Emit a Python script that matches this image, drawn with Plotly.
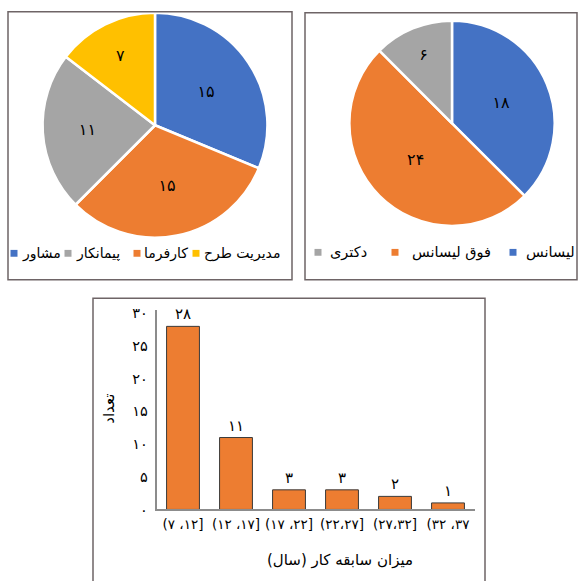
import plotly.graph_objects as go

# ---------------- data ----------------
role_labels = ["مشاور", "کارفرما", "پیمانکار", "مدیریت طرح"]
role_values = [15, 15, 11, 7]
role_colors = ["#4472C4", "#ED7D31", "#A5A5A5", "#FFC000"]

degree_labels = ["لیسانس", "فوق لیسانس", "دکتری"]
degree_values = [18, 24, 6]
degree_colors = ["#4472C4", "#ED7D31", "#A5A5A5"]

exp_categories = ["(۷ ،۱۲]", "(۱۲ ،۱۷]", "(۱۷ ،۲۲]", "(۲۲،۲۷]", "(۲۷،۳۲]", "(۳۲ ،۳۷"]
exp_values = [28, 11, 3, 3, 2, 1]

y_tickvals = [0, 5, 10, 15, 20, 25, 30]
x_title = "میزان سابقه کار (سال)\u200f"
y_title = "تعداد"

FA = str.maketrans("0123456789", "۰۱۲۳۴۵۶۷۸۹")
def fa(n):
    return str(n).translate(FA)

W, H = 584, 581
def px(x):
    return x / W
def py(y):
    return 1 - y / H

FONT = "DejaVu Sans"
BORDER = "#6e6466"

fig = go.Figure()

# left pie
fig.add_trace(go.Pie(
    labels=role_labels, values=role_values, text=[fa(v) for v in role_values],
    textinfo="text", textposition="inside", insidetextorientation="horizontal",
    sort=False, direction="clockwise", rotation=0,
    marker=dict(colors=role_colors, line=dict(color="white", width=2.5)),
    textfont=dict(family=FONT, size=16, color="black"),
    domain=dict(x=[px(40), px(270)], y=[py(238), py(8)]),
    showlegend=False, hoverinfo="label+value",
))

# right pie
fig.add_trace(go.Pie(
    labels=degree_labels, values=degree_values, text=[fa(v) for v in degree_values],
    textinfo="text", textposition="inside", insidetextorientation="horizontal",
    sort=False, direction="clockwise", rotation=0,
    marker=dict(colors=degree_colors, line=dict(color="white", width=2.5)),
    textfont=dict(family=FONT, size=16, color="black"),
    domain=dict(x=[px(347), px(557)], y=[py(226), py(16)]),
    showlegend=False, hoverinfo="label+value",
))

# bar chart
fig.add_trace(go.Bar(
    x=exp_categories, y=exp_values, text=[fa(v) for v in exp_values],
    textposition="outside", cliponaxis=False,
    textfont=dict(family=FONT, size=15, color="black"),
    marker=dict(color="#ED7D31", line=dict(color="#3a3a3a", width=1)),
    width=0.62, showlegend=False,
))

fig.update_xaxes(
    domain=[px(156.5), px(474.5)], showline=True, linecolor="#8c8c8c", linewidth=1.5,
    ticks="", showgrid=False, tickfont=dict(family=FONT, size=13.5, color="black"),
    zeroline=False, ticklabelstandoff=2,
)
fig.update_yaxes(
    domain=[py(516), py(312)], range=[0, 30.5], showline=True, linecolor="#8c8c8c",
    linewidth=1.5, ticks="", showgrid=False, zeroline=False,
    tickvals=y_tickvals, ticktext=[fa(v) for v in y_tickvals],
    tickfont=dict(family=FONT, size=14.5, color="black"), ticklabelstandoff=4,
)

shapes = [
    dict(type="rect", xref="paper", yref="paper", x0=px(8), x1=px(292), y0=py(281), y1=py(7),
         line=dict(color=BORDER, width=1.5)),
    dict(type="rect", xref="paper", yref="paper", x0=px(305), x1=px(577), y0=py(281), y1=py(8),
         line=dict(color=BORDER, width=1.5)),
    dict(type="rect", xref="paper", yref="paper", x0=px(93), x1=px(485), y0=py(590), y1=py(300),
         line=dict(color=BORDER, width=1.5)),
]
annotations = []

# legends (square on the left of each label)
def add_legend(labels, colors, sq_x, txt_x, y, size):
    for lab, col, sx, tx in zip(labels, colors, sq_x, txt_x):
        shapes.append(dict(type="rect", xref="paper", yref="paper",
                           x0=px(sx - 3.5), x1=px(sx + 3.5), y0=py(y + 3.5), y1=py(y - 3.5),
                           fillcolor=col, line=dict(width=0)))
        annotations.append(dict(text=lab, xref="paper", yref="paper", x=px(tx), y=py(y),
                                xanchor="left", yanchor="middle", showarrow=False,
                                font=dict(family=FONT, size=size, color="black")))

add_legend(role_labels, role_colors,
           sq_x=[14, 137, 68, 196], txt_x=[20, 142, 74, 202], y=254, size=14)
add_legend(degree_labels, degree_colors,
           sq_x=[513, 395, 318], txt_x=[524, 410, 328], y=253, size=14.5)

annotations.append(dict(text=x_title, xref="paper", yref="paper", x=px(340), y=py(568),
                        xanchor="center", yanchor="middle", showarrow=False,
                        font=dict(family=FONT, size=15, color="black")))
annotations.append(dict(text=y_title, xref="paper", yref="paper", x=px(109), y=py(413),
                        xanchor="center", yanchor="middle", showarrow=False, textangle=-90,
                        font=dict(family=FONT, size=15, color="black")))

fig.update_layout(
    width=W, height=H, margin=dict(l=0, r=0, t=0, b=0),
    paper_bgcolor="white", plot_bgcolor="white",
    font=dict(family=FONT), shapes=shapes, annotations=annotations,
    bargap=0.38,
)

fig.write_html("out.html")
